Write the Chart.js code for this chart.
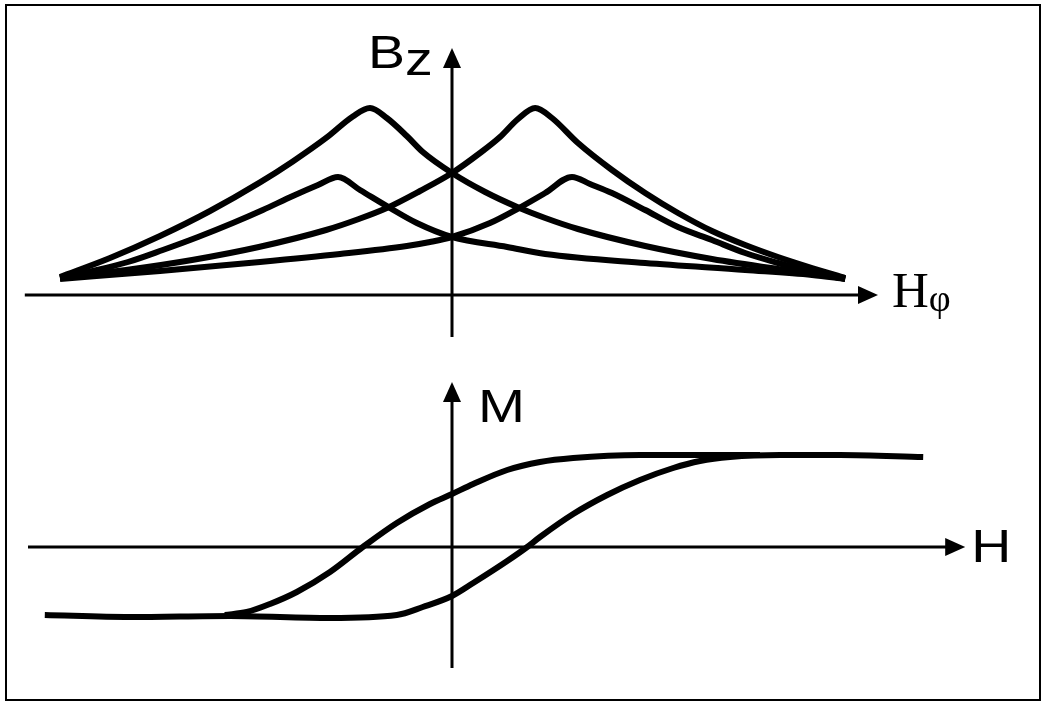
<!DOCTYPE html>
<html>
<head>
<meta charset="utf-8">
<title>Bz(Hφ) and M(H)</title>
<script src="https://cdn.jsdelivr.net/npm/chart.js@4/dist/chart.umd.min.js"></script>
<style>
  html, body { margin: 0; padding: 0; background: #fff; }
  #frame { position: absolute; left: 5px; top: 4px; width: 1032px; height: 693px; border: 2px solid #000; }
  canvas { position: absolute; left: 0; }
  #topChart { top: 0; }
  #bottomChart { top: 350px; }
</style>
</head>
<body>
<div id="frame"></div>
<canvas id="topChart" width="1044" height="350"></canvas>
<canvas id="bottomChart" width="1044" height="352"></canvas>
<script>
// ---- Upper panel: Bz versus Hφ, four cusp-shaped traces ----
const tallLeftH  = [-9.8, -8.55, -7.3, -6.05, -4.8, -3.98, -3.13, -2.48, -2.05, -1.63, -1.13, -0.73, 0, 0.83, 1.63, 2.33, 3.15, 4.83, 6.5, 8.15, 9.83];
const tallLeftB  = [0.9, 1.85, 2.95, 4.2, 5.63, 6.68, 7.88, 8.93, 9.35, 8.85, 7.95, 7.15, 6.1, 5.15, 4.4, 3.85, 3.3, 2.45, 1.8, 1.3, 0.85];

const tallRightH = [-9.8, -8.15, -6.5, -4.83, -3.15, -2.33, -1.63, -0.8, 0, 0.7, 1.2, 1.65, 2.08, 2.5, 3.15, 4.0, 4.83, 5.65, 6.5, 7.33, 8.15, 9.0, 9.83];
const tallRightB = [0.85, 1.25, 1.75, 2.4, 3.25, 3.8, 4.35, 5.2, 6.1, 7.1, 7.9, 8.8, 9.35, 8.85, 7.6, 6.25, 5.1, 4.1, 3.2, 2.5, 1.9, 1.35, 0.85];

const lowLeftH   = [-9.8, -8.98, -8.1, -7.23, -6.35, -5.48, -4.73, -3.98, -3.35, -2.85, -2.3, -1.55, -0.88, 0, 1.38, 2.33, 4.83, 7.33, 9.0, 9.83];
const lowLeftB   = [0.85, 1.2, 1.65, 2.25, 2.9, 3.6, 4.25, 4.95, 5.5, 5.9, 5.25, 4.35, 3.6, 2.9, 2.4, 2.05, 1.6, 1.25, 1.0, 0.8];

const lowRightH  = [-9.8, -7.3, -4.8, -2.8, -1.13, -0.55, 0, 0.95, 1.63, 2.33, 3.0, 3.45, 4.0, 4.83, 5.65, 6.5, 7.33, 8.15, 9.0, 9.83];
const lowRightB  = [0.8, 1.2, 1.65, 2.05, 2.45, 2.65, 2.9, 3.6, 4.3, 5.1, 5.9, 5.55, 5.1, 4.25, 3.4, 2.75, 2.1, 1.6, 1.15, 0.8];

// ---- Lower panel: hysteresis loop M versus H ----
const risingH  = [-10.18, -8.05, -5.55, -3.05, -1.38, -0.73, 0, 0.53, 1.38, 1.88, 2.2, 3.03, 3.88, 4.7, 5.53, 6.2, 6.95, 8.2, 9.7, 11.78];
const risingM  = [-3.4, -3.5, -3.45, -3.55, -3.4, -3.0, -2.45, -1.8, -0.7, 0, 0.5, 1.65, 2.6, 3.35, 3.95, 4.3, 4.5, 4.6, 4.6, 4.5];

const fallingH = [-5.68, -5.13, -4.55, -3.88, -3.05, -2.23, -1.38, -0.55, 0, 0.53, 1.38, 2.2, 3.03, 4.7, 6.38, 7.7];
const fallingM = [-3.4, -3.25, -2.85, -2.25, -1.25, 0, 1.2, 2.15, 2.65, 3.15, 3.85, 4.25, 4.45, 4.6, 4.6, 4.6];

// Axis extents (data units) for the arrowed axes of each panel
const upperAxisH = [-10.68, 10.65];
const upperAxisB = [-2.1, 12.35];
const lowerAxisH = [-10.6, 12.83];
const lowerAxisM = [-6.05, 8.25];

const pairUp = (xs, ys) => xs.map((v, i) => ({ x: v, y: ys[i] }));

const trace = (xs, ys, width) => ({
  data: pairUp(xs, ys),
  showLine: true,
  borderColor: '#000',
  borderWidth: width,
  borderCapStyle: 'butt',
  borderJoinStyle: 'round',
  pointRadius: 0,
  cubicInterpolationMode: 'monotone',
  fill: false
});

// Builds a plugin that draws two arrowed axes through the origin plus their symbols
function arrowAxes(cfg) {
  return {
    id: 'arrowAxes',
    beforeDatasetsDraw(chart) {
      const { ctx, scales: { x, y } } = chart;
      const x0 = x.getPixelForValue(0);
      const y0 = y.getPixelForValue(0);
      ctx.save();
      ctx.strokeStyle = '#000';
      ctx.fillStyle = '#000';
      ctx.lineWidth = cfg.lineWidth;
      ctx.lineCap = 'butt';
      const hA = x.getPixelForValue(cfg.h[0]);
      const hB = x.getPixelForValue(cfg.h[1]);
      ctx.beginPath();
      ctx.moveTo(hA, y0);
      ctx.lineTo(hB - cfg.head + 2, y0);
      ctx.stroke();
      ctx.beginPath();
      ctx.moveTo(hB, y0);
      ctx.lineTo(hB - cfg.head, y0 - cfg.half);
      ctx.lineTo(hB - cfg.head, y0 + cfg.half);
      ctx.closePath();
      ctx.fill();
      const vA = y.getPixelForValue(cfg.v[0]);
      const vB = y.getPixelForValue(cfg.v[1]);
      ctx.beginPath();
      ctx.moveTo(x0, vA);
      ctx.lineTo(x0, vB + cfg.head - 2);
      ctx.stroke();
      ctx.beginPath();
      ctx.moveTo(x0, vB);
      ctx.lineTo(x0 - cfg.half, vB + cfg.head);
      ctx.lineTo(x0 + cfg.half, vB + cfg.head);
      ctx.closePath();
      ctx.fill();
      ctx.restore();
    },
    afterDraw(chart) {
      const { ctx, scales: { x, y } } = chart;
      const tips = {
        h: { x: x.getPixelForValue(cfg.h[1]), y: y.getPixelForValue(0) },
        v: { x: x.getPixelForValue(0), y: y.getPixelForValue(cfg.v[1]) }
      };
      ctx.save();
      ctx.fillStyle = '#000';
      ctx.textBaseline = 'alphabetic';
      ctx.textAlign = 'left';
      cfg.labels.forEach(lb => {
        const t = tips[lb.at];
        let px = t.x + lb.dx;
        lb.parts.forEach(p => {
          const sx = p.stretch || 1;
          ctx.font = p.font;
          const w = ctx.measureText(p.text).width * sx;
          ctx.save();
          ctx.translate(px, t.y + lb.dy + (p.shift || 0));
          ctx.scale(sx, 1);
          ctx.fillText(p.text, 0, 0);
          ctx.restore();
          px += w;
        });
      });
      ctx.restore();
    }
  };
}

const sans = '47px "Liberation Sans", Arial, sans-serif';
const serif = '"Liberation Serif", "Times New Roman", serif';

function panel(id, datasets, yMin, yMax, axisCfg) {
  return new Chart(document.getElementById(id), {
    type: 'scatter',
    data: { datasets },
    options: {
      responsive: false,
      maintainAspectRatio: false,
      devicePixelRatio: 1,
      animation: false,
      events: [],
      layout: { padding: 0 },
      scales: {
        x: { type: 'linear', min: -11.3, max: 14.8, display: false },
        y: { type: 'linear', min: yMin, max: yMax, display: false }
      },
      plugins: {
        legend: { display: false },
        tooltip: { enabled: false }
      }
    },
    plugins: [arrowAxes(axisCfg)]
  });
}

panel('topChart', [
  trace(tallLeftH, tallLeftB, 6),
  trace(tallRightH, tallRightB, 6),
  trace(lowLeftH, lowLeftB, 6),
  trace(lowRightH, lowRightB, 6)
], -2.75, 14.75, {
  h: upperAxisH, v: upperAxisB, lineWidth: 3, head: 20, half: 9,
  labels: [
    { at: 'v', dx: -84, dy: 20, parts: [
      { text: 'B', font: sans, stretch: 1.18 },
      { text: 'z', font: sans, stretch: 1.18, shift: 7 }
    ] },
    { at: 'h', dx: 14, dy: 12, parts: [
      { text: 'H', font: '51px ' + serif },
      { text: 'φ', font: '38px ' + serif, shift: 4 }
    ] }
  ]
});

panel('bottomChart', [
  trace(risingH, risingM, 6),
  trace(fallingH, fallingM, 6)
], -7.75, 9.85, {
  h: lowerAxisH, v: lowerAxisM, lineWidth: 3, head: 20, half: 9,
  labels: [
    { at: 'v', dx: 26, dy: 40, parts: [{ text: 'M', font: sans, stretch: 1.2 }] },
    { at: 'h', dx: 6, dy: 15, parts: [{ text: 'H', font: sans, stretch: 1.18 }] }
  ]
});
</script>
</body>
</html>
